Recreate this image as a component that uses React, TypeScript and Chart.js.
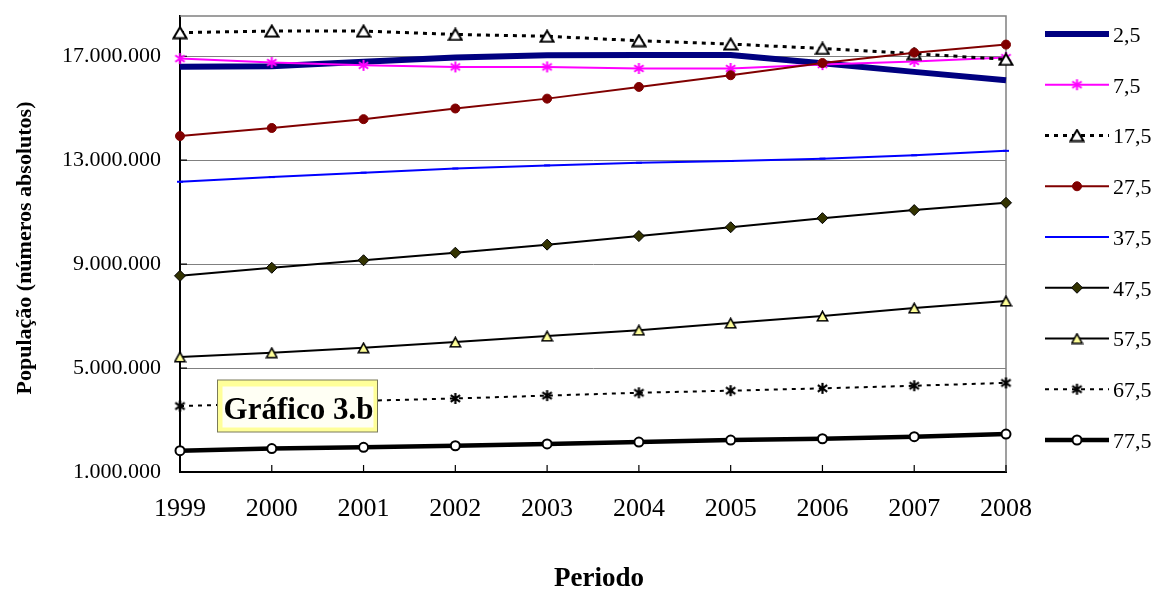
import React, { useEffect, useRef } from 'react';
import { Chart, registerables } from 'chart.js';
import { drawPoint } from 'chart.js/helpers';

Chart.register(...registerables);

// Years on the horizontal axis
const YEARS = ['1999', '2000', '2001', '2002', '2003', '2004', '2005', '2006', '2007', '2008'];

// Series names (age-group midpoints)
const SERIES_LABELS = ['2,5', '7,5', '17,5', '27,5', '37,5', '47,5', '57,5', '67,5', '77,5'];

// Population per age group, absolute numbers
const AGE_2_5 = [16600000, 16620000, 16790000, 16950000, 17040000, 17050000, 17050000, 16730000, 16400000, 16080000];
const AGE_7_5 = [16910000, 16760000, 16650000, 16590000, 16590000, 16530000, 16530000, 16680000, 16800000, 16950000];
const AGE_17_5 = [17910000, 17970000, 17970000, 17840000, 17770000, 17600000, 17470000, 17300000, 17100000, 16880000];
const AGE_27_5 = [13930000, 14240000, 14580000, 14990000, 15370000, 15820000, 16270000, 16740000, 17140000, 17450000];
const AGE_37_5 = [12170000, 12350000, 12520000, 12680000, 12800000, 12900000, 12970000, 13060000, 13190000, 13360000];
const AGE_47_5 = [8550000, 8860000, 9150000, 9440000, 9750000, 10080000, 10420000, 10770000, 11080000, 11360000];
const AGE_57_5 = [5430000, 5590000, 5780000, 6000000, 6230000, 6460000, 6730000, 7000000, 7310000, 7580000];
const AGE_67_5 = [3540000, 3640000, 3740000, 3830000, 3940000, 4050000, 4130000, 4220000, 4320000, 4430000];
const AGE_77_5 = [1820000, 1900000, 1950000, 2010000, 2080000, 2150000, 2230000, 2280000, 2360000, 2460000];

const SERIES_VALUES = [AGE_2_5, AGE_7_5, AGE_17_5, AGE_27_5, AGE_37_5, AGE_47_5, AGE_57_5, AGE_67_5, AGE_77_5];

// Value axis
const Y_MIN = 1000000;
const Y_MAX = 18550000;
const Y_TICKS = [1000000, 5000000, 9000000, 13000000, 17000000];

const SERIF = "'Times New Roman', 'Liberation Serif', serif";

function makeMarker(w: number, h: number, paint: (ctx: CanvasRenderingContext2D) => void) {
  const c = document.createElement('canvas');
  c.width = w;
  c.height = h;
  const ctx = c.getContext('2d')!;
  paint(ctx);
  return c;
}

function asterisk(color: string, size: number, lw: number) {
  return makeMarker(size, size, (ctx) => {
    const m = size / 2;
    const r = size / 2 - 1;
    ctx.strokeStyle = color;
    ctx.lineWidth = lw;
    ctx.beginPath();
    ctx.moveTo(m, m - r);
    ctx.lineTo(m, m + r);
    ctx.moveTo(m - r * 0.85, m - r * 0.6);
    ctx.lineTo(m + r * 0.85, m + r * 0.6);
    ctx.moveTo(m + r * 0.85, m - r * 0.6);
    ctx.lineTo(m - r * 0.85, m + r * 0.6);
    ctx.stroke();
  });
}

function triangle(fill: string, w: number, h: number, lw: number) {
  return makeMarker(w, h, (ctx) => {
    const p = lw / 2 + 0.5;
    ctx.fillStyle = fill;
    ctx.strokeStyle = '#000000';
    ctx.lineWidth = lw;
    ctx.lineJoin = 'miter';
    ctx.beginPath();
    ctx.moveTo(w / 2, p);
    ctx.lineTo(w - p, h - p);
    ctx.lineTo(p, h - p);
    ctx.closePath();
    ctx.fill();
    ctx.stroke();
  });
}

type SeriesStyle = {
  color: string;
  width: number;
  dash: number[];
  marker: any;
  radius: number;
  fill: string;
  stroke: string;
  markerWidth: number;
};

function buildStyles(): SeriesStyle[] {
  return [
    { color: '#000080', width: 6, dash: [], marker: 'circle', radius: 0, fill: '#000080', stroke: '#000080', markerWidth: 0 },
    { color: '#FF00FF', width: 2, dash: [], marker: asterisk('#FF00FF', 13, 2), radius: 6, fill: '#FF00FF', stroke: '#FF00FF', markerWidth: 0 },
    { color: '#000000', width: 3, dash: [4, 5], marker: triangle('#FFFFFF', 16, 14, 2), radius: 7, fill: '#FFFFFF', stroke: '#000000', markerWidth: 0 },
    { color: '#800000', width: 2, dash: [], marker: 'circle', radius: 4.5, fill: '#800000', stroke: '#800000', markerWidth: 1 },
    { color: '#0000FF', width: 2, dash: [], marker: 'line', radius: 3, fill: '#0000FF', stroke: '#0000FF', markerWidth: 2 },
    { color: '#000000', width: 2, dash: [], marker: 'rectRot', radius: 5.5, fill: '#333300', stroke: '#000000', markerWidth: 1 },
    { color: '#000000', width: 2, dash: [], marker: triangle('#FFFF99', 13, 12, 1.6), radius: 5, fill: '#FFFF99', stroke: '#000000', markerWidth: 0 },
    { color: '#000000', width: 2, dash: [4, 5], marker: asterisk('#000000', 13, 2.2), radius: 5, fill: '#000000', stroke: '#000000', markerWidth: 0 },
    { color: '#000000', width: 4.5, dash: [], marker: 'circle', radius: 4.5, fill: '#FFFFFF', stroke: '#000000', markerWidth: 2 },
  ];
}

function formatThousands(v: number) {
  return String(Math.round(v)).replace(/\B(?=(\d{3})+(?!\d))/g, '.');
}

// Plot frame: gray top/right edges and short inward tick marks
const framePlugin = {
  id: 'frame',
  beforeDatasetsDraw(chart: any) {
    const { ctx, chartArea: a, scales } = chart;
    ctx.save();
    ctx.strokeStyle = '#808080';
    ctx.lineWidth = 1.5;
    ctx.beginPath();
    ctx.moveTo(a.left, a.top);
    ctx.lineTo(a.right, a.top);
    ctx.lineTo(a.right, a.bottom);
    ctx.stroke();

    ctx.strokeStyle = '#000000';
    ctx.lineWidth = 1.2;
    ctx.beginPath();
    scales.x.ticks.forEach((_t: any, i: number) => {
      const x = scales.x.getPixelForTick(i);
      ctx.moveTo(x, a.bottom);
      ctx.lineTo(x, a.bottom - 7);
    });
    scales.y.ticks.forEach((t: any) => {
      const y = scales.y.getPixelForValue(t.value);
      ctx.moveTo(a.left, y);
      ctx.lineTo(a.left + 7, y);
    });
    ctx.stroke();
    ctx.restore();
  },
};

// Caption box inside the plot
const captionPlugin = {
  id: 'caption',
  afterDatasetsDraw(chart: any) {
    const { ctx } = chart;
    ctx.save();
    ctx.fillStyle = '#FFFF99';
    ctx.fillRect(217.5, 380, 160, 52);
    ctx.strokeStyle = '#7a7a5a';
    ctx.lineWidth = 1;
    ctx.strokeRect(217.5, 380, 160, 52);
    ctx.fillStyle = '#FFFFF4';
    ctx.fillRect(222.5, 386.5, 151, 41);
    ctx.fillStyle = '#000000';
    ctx.font = `bold 31px ${SERIF}`;
    ctx.textAlign = 'center';
    ctx.textBaseline = 'alphabetic';
    ctx.fillText('Gráfico 3.b', 298.5, 419);
    ctx.restore();
  },
};

// Axis titles and the line-sample legend on the right
const annotatePlugin = {
  id: 'annotate',
  afterDraw(chart: any) {
    const { ctx } = chart;
    ctx.save();
    ctx.fillStyle = '#000000';
    ctx.font = `bold 22px ${SERIF}`;
    ctx.textAlign = 'center';
    ctx.textBaseline = 'middle';
    ctx.translate(25, 248);
    ctx.rotate(-Math.PI / 2);
    ctx.fillText('População (números absolutos)', 0, 0);
    ctx.restore();

    ctx.save();
    ctx.fillStyle = '#000000';
    ctx.font = `bold 27px ${SERIF}`;
    ctx.textAlign = 'center';
    ctx.textBaseline = 'middle';
    ctx.fillText('Periodo', 599, 579);
    ctx.restore();

    const x0 = 1045;
    const x1 = 1109;
    chart.data.datasets.forEach((ds: any, i: number) => {
      const y = 34 + i * 50.75;
      ctx.save();
      ctx.strokeStyle = ds.borderColor;
      ctx.lineWidth = ds.borderWidth;
      ctx.setLineDash(ds.borderDash || []);
      ctx.beginPath();
      ctx.moveTo(x0, y);
      ctx.lineTo(x1, y);
      ctx.stroke();
      ctx.setLineDash([]);
      if (ds.pointRadius > 0) {
        ctx.fillStyle = ds.pointBackgroundColor;
        ctx.strokeStyle = ds.pointBorderColor;
        ctx.lineWidth = ds.pointBorderWidth;
        drawPoint(ctx, {
          pointStyle: ds.pointStyle,
          radius: ds.pointRadius,
          rotation: 0,
          borderWidth: ds.pointBorderWidth,
        } as any, (x0 + x1) / 2, y);
      }
      ctx.fillStyle = '#000000';
      ctx.font = `22px ${SERIF}`;
      ctx.textAlign = 'left';
      ctx.textBaseline = 'middle';
      ctx.fillText(ds.label, 1113, y + 2);
      ctx.restore();
    });
  },
};

export default function App() {
  const canvasRef = useRef<HTMLCanvasElement | null>(null);

  useEffect(() => {
    const canvas = canvasRef.current;
    if (!canvas) return;
    const styles = buildStyles();
    const datasets = SERIES_VALUES.map((values, i) => {
      const s = styles[i];
      return {
        label: SERIES_LABELS[i],
        data: values,
        borderColor: s.color,
        borderWidth: s.width,
        borderDash: s.dash,
        pointStyle: s.marker,
        pointRadius: s.radius,
        pointHoverRadius: s.radius,
        pointBackgroundColor: s.fill,
        pointBorderColor: s.stroke,
        pointBorderWidth: s.markerWidth,
        tension: 0,
        fill: false,
        clip: false as any,
        order: -i,
      };
    });

    const chart = new Chart(canvas, {
      type: 'line',
      data: { labels: YEARS, datasets },
      options: {
        animation: false,
        responsive: true,
        maintainAspectRatio: false,
        layout: { padding: { left: 0, top: 16, right: 151, bottom: 0 } },
        plugins: {
          legend: { display: false },
          tooltip: { enabled: false },
          title: { display: false },
        },
        scales: {
          x: {
            type: 'category',
            offset: false,
            grid: { display: false, drawTicks: false },
            border: { display: true, color: '#000000', width: 2 },
            ticks: {
              color: '#000000',
              font: { family: SERIF, size: 26 },
              padding: 22,
              maxRotation: 0,
              autoSkip: false,
            },
            afterFit: (scale: any) => {
              scale.height = 120;
              scale.paddingLeft = 0;
              scale.paddingRight = 0;
            },
          },
          y: {
            type: 'linear',
            min: Y_MIN,
            max: Y_MAX,
            afterBuildTicks: (scale: any) => {
              scale.ticks = Y_TICKS.map((v) => ({ value: v }));
            },
            afterFit: (scale: any) => {
              scale.width = 180;
              scale.paddingTop = 0;
              scale.paddingBottom = 0;
            },
            grid: {
              drawTicks: false,
              color: (ctx: any) => (ctx.tick && ctx.tick.value === Y_MIN ? 'rgba(0,0,0,0)' : '#808080'),
              lineWidth: 1,
            },
            border: { display: true, color: '#000000', width: 2 },
            ticks: {
              color: '#000000',
              font: { family: SERIF, size: 22 },
              padding: 19,
              callback: (v: any) => formatThousands(Number(v)),
            },
          },
        },
      },
      plugins: [framePlugin, captionPlugin, annotatePlugin],
    });

    return () => chart.destroy();
  }, []);

  return (
    <div style={{ position: 'absolute', left: 0, top: 0, width: 1157, height: 592, background: '#ffffff' }}>
      <canvas ref={canvasRef} />
    </div>
  );
}
